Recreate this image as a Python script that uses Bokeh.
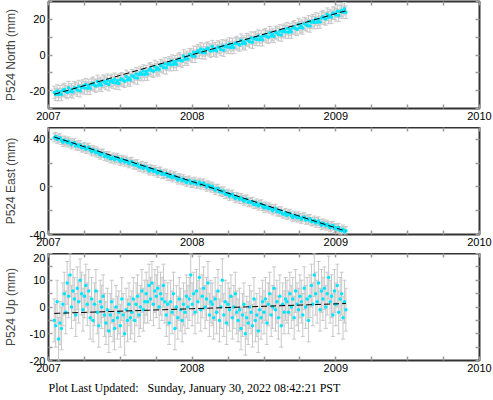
import numpy as np
from bokeh.plotting import figure
from bokeh.models import (ColumnDataSource, Whisker, TeeHead, LinearAxis,
                          FixedTicker, Range1d, Title)
from bokeh.layouts import column
from bokeh.embed import file_html
from bokeh.resources import INLINE

# ---------------- data ----------------
epoch = [
    2007.04, 2007.05, 2007.06, 2007.07, 2007.08, 2007.09, 2007.10, 2007.11, 2007.12, 2007.13,
    2007.14, 2007.15, 2007.16, 2007.17, 2007.18, 2007.19, 2007.20, 2007.21, 2007.22, 2007.23,
    2007.24, 2007.25, 2007.26, 2007.27, 2007.28, 2007.29, 2007.30, 2007.31, 2007.32, 2007.33,
    2007.34, 2007.35, 2007.36, 2007.37, 2007.38, 2007.39, 2007.40, 2007.41, 2007.42, 2007.43,
    2007.44, 2007.45, 2007.46, 2007.47, 2007.48, 2007.49, 2007.50, 2007.51, 2007.52, 2007.53,
    2007.54, 2007.55, 2007.56, 2007.57, 2007.58, 2007.59, 2007.60, 2007.61, 2007.62, 2007.63,
    2007.64, 2007.65, 2007.66, 2007.67, 2007.68, 2007.69, 2007.70, 2007.71, 2007.72, 2007.73,
    2007.74, 2007.75, 2007.76, 2007.77, 2007.78, 2007.79, 2007.80, 2007.81, 2007.82, 2007.83,
    2007.84, 2007.85, 2007.86, 2007.87, 2007.88, 2007.89, 2007.90, 2007.91, 2007.92, 2007.93,
    2007.94, 2007.95, 2007.96, 2007.97, 2007.98, 2007.99, 2008.00, 2008.01, 2008.02, 2008.03,
    2008.04, 2008.05, 2008.06, 2008.07, 2008.08, 2008.09, 2008.10, 2008.11, 2008.12, 2008.13,
    2008.14, 2008.15, 2008.16, 2008.17, 2008.18, 2008.19, 2008.20, 2008.21, 2008.22, 2008.23,
    2008.24, 2008.25, 2008.26, 2008.27, 2008.28, 2008.29, 2008.30, 2008.31, 2008.32, 2008.33,
    2008.34, 2008.35, 2008.36, 2008.37, 2008.38, 2008.39, 2008.40, 2008.41, 2008.42, 2008.43,
    2008.44, 2008.45, 2008.46, 2008.47, 2008.48, 2008.49, 2008.50, 2008.51, 2008.52, 2008.53,
    2008.54, 2008.55, 2008.56, 2008.57, 2008.58, 2008.59, 2008.60, 2008.61, 2008.62, 2008.63,
    2008.64, 2008.65, 2008.66, 2008.67, 2008.68, 2008.69, 2008.70, 2008.71, 2008.72, 2008.73,
    2008.74, 2008.75, 2008.76, 2008.77, 2008.78, 2008.79, 2008.80, 2008.81, 2008.82, 2008.83,
    2008.84, 2008.85, 2008.86, 2008.87, 2008.88, 2008.89, 2008.90, 2008.91, 2008.92, 2008.93,
    2008.94, 2008.95, 2008.96, 2008.97, 2008.98, 2008.99, 2009.00, 2009.01, 2009.02, 2009.03,
    2009.04, 2009.05, 2009.06, 2009.07,
]

north = [
    -21.0, -22.1, -20.2, -22.2, -20.6, -22.1, -19.9, -19.4, -20.4, -21.0,
    -18.4, -20.4, -19.5, -20.7, -18.4, -18.8, -19.7, -17.7, -20.1, -18.2,
    -17.4, -18.5, -16.6, -18.6, -17.1, -18.6, -16.4, -15.8, -16.9, -17.4,
    -14.8, -16.8, -15.9, -17.0, -14.7, -15.1, -16.0, -14.1, -16.6, -14.9,
    -14.2, -15.4, -13.6, -15.7, -14.4, -16.0, -13.9, -13.3, -14.2, -14.7,
    -12.0, -13.9, -12.9, -14.0, -11.6, -11.9, -12.7, -10.6, -12.9, -10.9,
    -10.0, -11.0, -9.0, -10.9, -9.3, -10.7, -8.4, -7.7, -8.7, -9.1,
    -6.4, -8.3, -7.3, -8.3, -5.9, -6.2, -7.0, -4.9, -7.2, -5.3,
    -4.4, -5.4, -3.4, -5.3, -3.8, -5.2, -2.9, -2.2, -3.0, -3.4,
    -0.6, -2.4, -1.3, -2.3, 0.2, 0.1, -0.7, 1.5, -0.7, 1.4,
    2.4, 1.5, 3.4, 1.3, 2.8, 1.2, 3.4, 3.9, 2.8, 2.2,
    4.7, 2.7, 3.5, 2.3, 4.5, 4.1, 3.1, 5.1, 2.7, 4.6,
    5.4, 4.3, 6.2, 4.2, 5.7, 4.2, 6.4, 7.0, 6.1, 5.6,
    8.3, 6.4, 7.3, 6.3, 8.6, 8.4, 7.5, 9.5, 7.1, 9.0,
    9.8, 8.7, 10.6, 8.6, 10.1, 8.6, 10.8, 11.4, 10.4, 9.9,
    12.5, 10.6, 11.5, 10.4, 12.7, 12.4, 11.5, 13.5, 11.2, 13.1,
    13.9, 12.9, 14.8, 12.8, 14.3, 12.9, 15.1, 15.8, 14.8, 14.4,
    17.1, 15.3, 16.2, 15.2, 17.6, 17.3, 16.5, 18.6, 16.3, 18.3,
    19.2, 18.2, 20.2, 18.3, 19.9, 18.5, 20.8, 21.5, 20.6, 20.2,
    22.9, 21.1, 22.1, 21.1, 23.5, 23.3, 22.5, 24.6, 22.2, 24.2,
    25.0, 24.0, 25.9, 24.0,
]

east = [
    41.4, 42.4, 39.9, 40.9, 41.3, 39.2, 37.6, 39.3, 38.5, 37.1,
    38.5, 37.0, 35.5, 36.8, 37.2, 34.5, 35.3, 34.2, 35.4, 32.9,
    32.9, 34.0, 31.7, 32.8, 33.3, 31.2, 29.6, 31.2, 30.2, 28.7,
    30.0, 28.4, 26.8, 28.0, 28.4, 25.6, 26.3, 25.1, 26.1, 23.7,
    23.9, 25.1, 22.8, 24.0, 24.7, 22.8, 21.4, 23.2, 22.3, 21.0,
    22.5, 21.0, 19.6, 20.9, 21.4, 18.6, 19.4, 18.3, 19.4, 16.8,
    16.8, 17.9, 15.5, 16.6, 17.0, 15.0, 13.5, 15.2, 14.4, 13.0,
    14.4, 12.9, 11.5, 12.8, 13.3, 10.6, 11.4, 10.4, 11.5, 9.0,
    9.0, 10.1, 7.7, 8.8, 9.3, 7.3, 5.9, 7.6, 6.7, 5.3,
    6.7, 5.2, 3.7, 5.0, 5.7, 3.2, 4.2, 3.3, 4.7, 2.4,
    2.6, 3.9, 1.7, 2.8, 3.3, 1.4, -0.1, 1.6, 0.7, -0.8,
    0.5, -1.1, -2.8, -1.6, -1.2, -4.0, -3.3, -4.5, -3.5, -6.2,
    -6.3, -5.3, -7.8, -6.7, -6.2, -8.2, -9.8, -8.1, -9.0, -10.4,
    -9.0, -10.5, -12.0, -10.8, -10.3, -13.0, -12.2, -13.3, -12.2, -14.7,
    -14.7, -13.6, -16.0, -14.9, -14.3, -16.3, -17.8, -16.1, -17.0, -18.4,
    -17.0, -18.5, -20.0, -18.7, -18.2, -20.9, -20.1, -21.3, -20.2, -22.7,
    -22.7, -21.6, -24.0, -22.9, -22.4, -24.3, -25.7, -23.9, -24.7, -26.0,
    -24.5, -25.9, -27.2, -25.8, -25.2, -27.8, -26.9, -27.9, -26.7, -29.2,
    -29.1, -28.0, -30.4, -29.3, -28.7, -30.7, -32.2, -30.4, -31.3, -32.7,
    -31.3, -32.7, -34.2, -32.9, -32.4, -35.0, -34.2, -35.3, -34.2, -36.7,
    -36.7, -35.5, -37.9, -36.8,
]

up = [
    -5, -7, 2, -12, -6, -8,
    1, 5, -2, 9, 4, 12, 0, 6, 3, -3, 7, 2, 10, 5, -1, 4, 8, 1, 6, -4,
    3, -5, 1, 6, -2, -7, 2, 0, 4, -3,
    -6, -1, -9, -3, 2, -5, -8, 0, -4, -2, -7, 3, -3, -10, -1, -5, 1, -4,
    -2, 3, -5, 1, 4, -3, 0, 6, -1, 2,
    5, 2, 8, 3, 9, 1, 6, 4, 7, 0, 5, 3, 8, 2,
    -3, 1, -6, 2, -2, 5, -8, 0, -4, 3, -1, -5, 1, -2, 4,
    0, 3, 12, 1, 5, -2, 6, 2, 11, -1, 4, 7, 0, 3, 9, -3, 2,
    1, -4, 3, -2, 6, -5, 0, 10, -3, 2, -6, 1, -1, 4, -4, 0, 5, -2,
    -5, -1, -8, -3, 1, -10, -4, -6, 0, -2, -7, 3, -5, -3, -9, -1, -4, 2,
    -2, 3, -6, 1, 5, -3, 0, 7, -1, 2, -4, 4, -7, 1, -2, 3,
    2, -2, 5, 0, 3, -4, 6, 1, -1, 4, 2, -3, 7, 0, 3, -5,
    4, 8, 1, 12, 5, 2, 9, -1, 6, 3, 7, 0, 5, 11, 2,
    4, -3, 6, 1, 8, -2, 3, 5, -4, 2, -1,
]

north_sigma = 3.5
east_sigma = 3.5
up_sigma = 8.0

trend_epoch = [2007.04, 2009.07]
north_trend = [-22.0, 24.8]
east_trend = [42.0, -37.2]
up_trend = [-2.4, 1.3]

year_labels = ["2007", "2008", "2009", "2010"]
updated_text = "Plot Last Updated:\u00a0\u00a0 Sunday, January 30, 2022 08:42:21 PST"

# ---------------- styling ----------------
FONT = "Liberation Sans"
CYAN = "#00e6ff"
ERR = "#c8c8c8"
FRAME = "#333333"
TICK = "#9a9a9a"

x_ticks = [2007 + 0.25 * k for k in range(13)]
x_overrides = {t: "" for t in x_ticks}
for lab in year_labels:
    x_overrides[float(lab)] = lab


def make_panel(values, sigma, trend, ylabel, yr, ystep, lstep,
               fh=107, top=0, bottom=19):
    t = np.array(epoch, dtype=float)
    v = np.array(values, dtype=float)
    n = min(len(t), len(v))
    t, v = t[:n], v[:n]
    src = ColumnDataSource(dict(t=t, v=v, lo=v - sigma, hi=v + sigma))

    p = figure(frame_width=431, frame_height=fh,
               x_range=Range1d(2007, 2010), y_range=Range1d(*yr),
               output_backend="svg", toolbar_location=None,
               min_border_left=48, min_border_right=14,
               min_border_top=top, min_border_bottom=bottom,
               x_axis_location=None, y_axis_location=None)
    p.background_fill_color = "white"
    p.border_fill_color = "white"
    p.outline_line_color = FRAME
    p.outline_line_width = 2
    p.grid.visible = False

    y_ticks = [float(x) for x in np.arange(yr[0], yr[1] + 0.001, ystep)]
    y_overrides = {}
    for yt in y_ticks:
        y_overrides[yt] = str(int(yt)) if (yt % lstep == 0) else ""

    def style(ax, labels=True):
        ax.axis_line_color = None
        ax.major_tick_in = 4
        ax.major_tick_out = 0
        ax.major_tick_line_color = TICK
        ax.major_tick_line_width = 1.5
        ax.minor_tick_line_color = None
        ax.major_label_text_font = FONT
        ax.major_label_text_color = "black"
        if labels:
            ax.major_label_text_font_size = "11px"
            ax.major_label_standoff = 3
        else:
            ax.major_label_text_font_size = "0px"
            ax.major_label_standoff = 0

    xb = LinearAxis(ticker=FixedTicker(ticks=x_ticks), major_label_overrides=x_overrides)
    style(xb)
    p.add_layout(xb, "below")
    xa = LinearAxis(ticker=FixedTicker(ticks=x_ticks),
                    major_label_overrides={t_: "" for t_ in x_ticks})
    style(xa, labels=False)
    p.add_layout(xa, "above")

    yl = LinearAxis(ticker=FixedTicker(ticks=y_ticks), major_label_overrides=y_overrides,
                    axis_label=ylabel)
    style(yl)
    yl.axis_label_text_font = FONT
    yl.axis_label_text_font_style = "normal"
    yl.axis_label_text_font_size = "12px"
    yl.axis_label_standoff = 9
    p.add_layout(yl, "left")
    yr_ax = LinearAxis(ticker=FixedTicker(ticks=y_ticks),
                       major_label_overrides={k: "" for k in y_ticks})
    style(yr_ax, labels=False)
    p.add_layout(yr_ax, "right")

    w = Whisker(source=src, base="t", lower="lo", upper="hi", dimension="height",
                line_color=ERR, line_width=1, level="underlay",
                upper_head=TeeHead(size=4, line_color=ERR, line_width=1),
                lower_head=TeeHead(size=4, line_color=ERR, line_width=1))
    p.add_layout(w)
    p.scatter("t", "v", source=src, size=3.5, marker="circle",
              fill_color=CYAN, line_color=None)
    p.line(trend_epoch, trend, line_color="black", line_width=1, line_dash="6 3")
    return p


p1 = make_panel(north, north_sigma, north_trend, "P524 North (mm)", (-30, 30), 10, 20,
                fh=107, top=1, bottom=19)
p2 = make_panel(east, east_sigma, east_trend, "P524 East (mm)", (-40, 50), 20, 40,
                fh=107, top=0, bottom=19)
p3 = make_panel(up, up_sigma, up_trend, "P524 Up (mm)", (-20, 20), 5, 10,
                fh=107, top=0, bottom=39)

t = Title(text=updated_text, align="left", text_font="Liberation Serif",
          text_font_size="12px", text_font_style="normal", text_color="black",
          standoff=8)
p3.add_layout(t, "below")

layout = column(p1, p2, p3, spacing=0)
open("out.html", "w").write(file_html(layout, INLINE))
